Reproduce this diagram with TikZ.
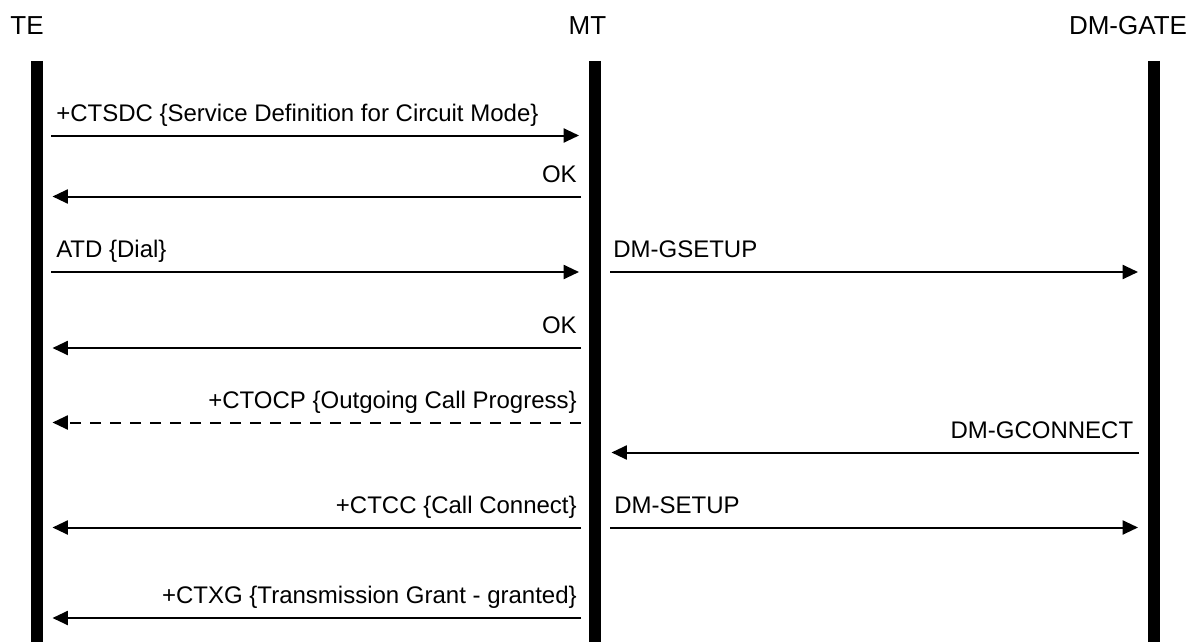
\documentclass[tikz,border=0pt]{standalone}
\usepackage{fontspec}
\setmainfont{Liberation Sans}
\usetikzlibrary{arrows.meta}
\begin{document}
\begin{tikzpicture}[x=0.75pt,y=-0.75pt,
  lifeline/.style={line width=9pt},
  msg/.style={line width=1.5pt,-{Triangle[length=11.5pt,width=10.5pt]}},
  dashmsg/.style={msg,dash pattern=on 8pt off 7pt},
  head/.style={font=\fontsize{19.5}{23}\selectfont,inner sep=0pt,anchor=base},
  lbl/.style={font=\fontsize{18}{21}\selectfont,inner sep=0pt},
  lblL/.style={lbl,anchor=base west},
  lblR/.style={lbl,anchor=base east},
]
\useasboundingbox (0,0) rectangle (1192,642);
% headers
\node[head] (TE) at (27,35) {TE};
\node[head] (MT) at (587.5,35) {MT};
\node[head] (GATE) at (1128,35) {DM-GATE};
% lifelines
\coordinate (TEtop) at (37,61);   \coordinate (TEbot) at (37,642);
\coordinate (MTtop) at (595,61);  \coordinate (MTbot) at (595,642);
\coordinate (GTtop) at (1153.5,61); \coordinate (GTbot) at (1153.5,642);
\draw[lifeline] (TEtop) -- (TEbot);
\draw[lifeline] (MTtop) -- (MTbot);
\draw[lifeline] (GTtop) -- (GTbot);
% message 1
\coordinate (a1) at (51,135.5); \coordinate (b1) at (579,135.5);
\draw[msg] (a1) -- (b1);
\node[lblL] (l1) at (56,121) {+CTSDC \{Service Definition for Circuit Mode\}};
% message 2
\coordinate (a2) at (581,196.5); \coordinate (b2) at (52.5,196.5);
\draw[msg] (a2) -- (b2);
\node[lblR] (l2) at (577,182) {OK};
% message 3
\coordinate (a3) at (51,272); \coordinate (b3) at (579,272);
\draw[msg] (a3) -- (b3);
\node[lblL] (l3) at (56,257.5) {ATD \{Dial\}};
\coordinate (c3) at (610,272); \coordinate (d3) at (1138,272);
\draw[msg] (c3) -- (d3);
\node[lblL] (l3b) at (613,257.5) {DM-GSETUP};
% message 4
\coordinate (a4) at (581,348); \coordinate (b4) at (52.5,348);
\draw[msg] (a4) -- (b4);
\node[lblR] (l4) at (577,333.5) {OK};
% message 5 (dashed)
\coordinate (a5) at (581,422.5); \coordinate (b5) at (52.5,422.5);
\draw[dashmsg] (a5) -- (b5);
\node[lblR] (l5) at (577,408) {+CTOCP \{Outgoing Call Progress\}};
% message 6
\coordinate (a6) at (1139,452.5); \coordinate (b6) at (611.5,452.5);
\draw[msg] (a6) -- (b6);
\node[lblR] (l6) at (1133.5,438) {DM-GCONNECT};
% message 7
\coordinate (a7) at (581,527.5); \coordinate (b7) at (52.5,527.5);
\draw[msg] (a7) -- (b7);
\node[lblR] (l7) at (577,513) {+CTCC \{Call Connect\}};
\coordinate (c7) at (610,527.5); \coordinate (d7) at (1138,527.5);
\draw[msg] (c7) -- (d7);
\node[lblL] (l7b) at (614,513) {DM-SETUP};
% message 8
\coordinate (a8) at (581,618); \coordinate (b8) at (52.5,618);
\draw[msg] (a8) -- (b8);
\node[lblR] (l8) at (577,603.5) {+CTXG \{Transmission Grant - granted\}};
\end{tikzpicture}
\end{document}
